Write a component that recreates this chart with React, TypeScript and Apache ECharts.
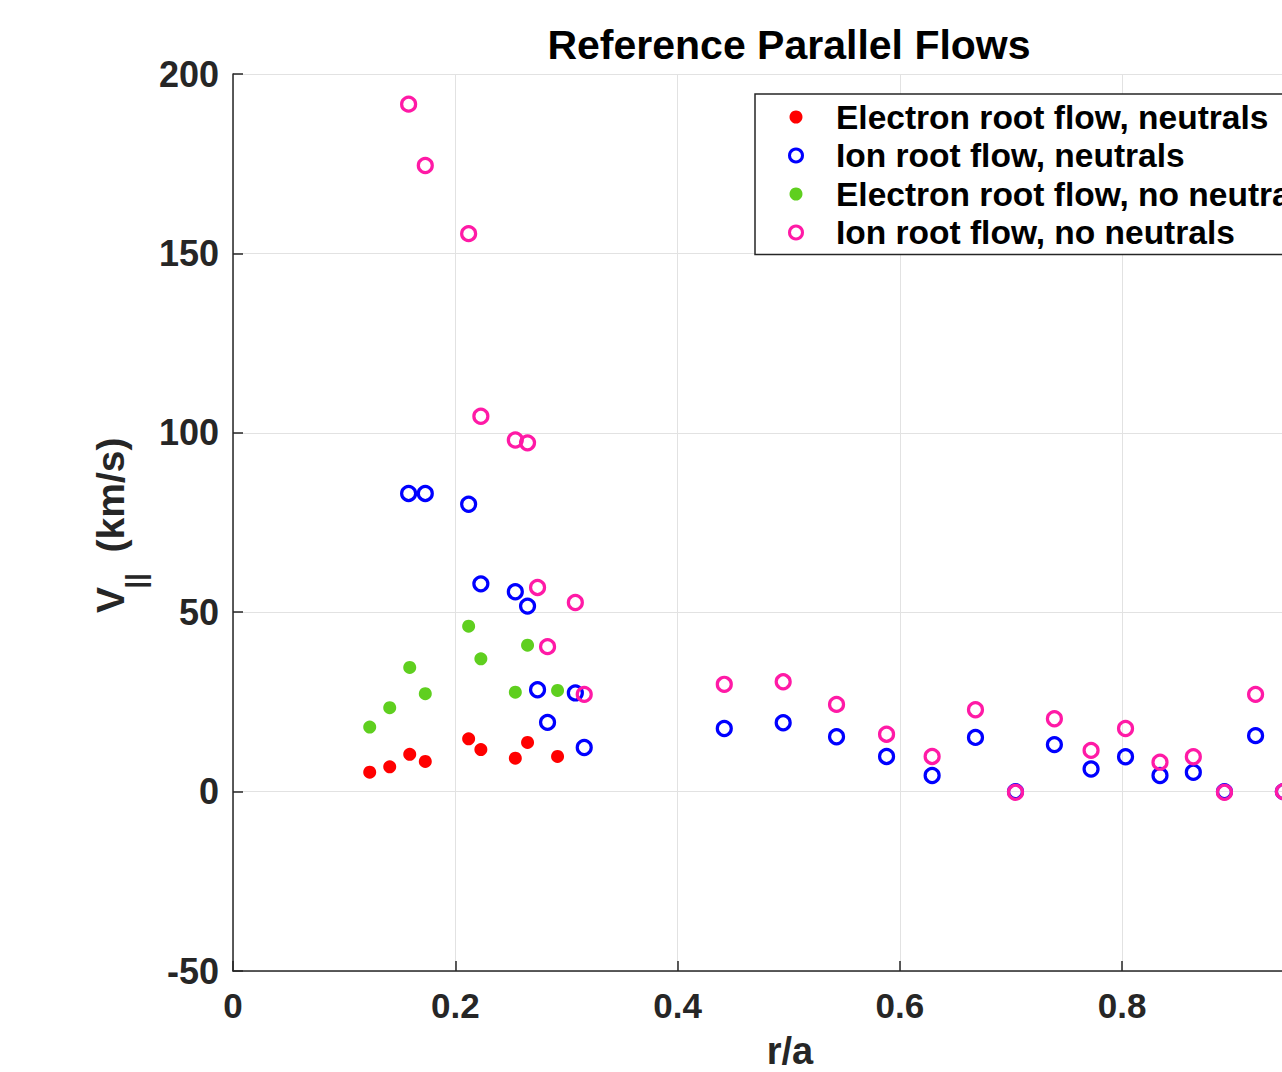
import React, { useEffect, useRef } from "react";
import * as echarts from "echarts";

// ---- data ----
const seriesNames = [
  "Electron root flow, neutrals",
  "Ion root flow, neutrals",
  "Electron root flow, no neutrals",
  "Ion root flow, no neutrals",
];

const electronX = [0.123, 0.141, 0.159, 0.173, 0.212, 0.223, 0.254, 0.265, 0.292];
const electronNeutrals = [5.4, 6.9, 10.4, 8.4, 14.7, 11.7, 9.3, 13.7, 9.8];
const electronNoNeutrals = [18.0, 23.4, 34.6, 27.3, 46.1, 37.0, 27.7, 40.8, 28.2];

const ionX = [
  0.158, 0.173, 0.212, 0.223, 0.254, 0.265, 0.274, 0.283, 0.308, 0.316,
  0.442, 0.495, 0.543, 0.588, 0.629, 0.668, 0.704, 0.739, 0.772, 0.803,
  0.834, 0.864, 0.892, 0.92, 0.945,
];
const ionNeutrals = [
  83.1, 83.1, 80.1, 57.9, 55.7, 51.7, 28.4, 19.3, 27.5, 12.3,
  17.6, 19.2, 15.3, 9.8, 4.5, 15.1, 0, 13.1, 6.3, 9.7,
  4.5, 5.4, 0, 15.6, 0,
];
const ionNoNeutrals = [
  191.6, 174.5, 155.5, 104.6, 98.0, 97.2, 56.9, 40.4, 52.7, 27.1,
  29.9, 30.6, 24.3, 16.0, 9.8, 22.8, -0.2, 20.3, 11.5, 17.6,
  8.2, 9.7, -0.2, 27.1, 0,
];

const xRange = [0, 1];
const xStep = 0.2;
const yRange = [-50, 200];
const yStep = 50;

const colors = ["#ff0000", "#0000ff", "#5fcf1f", "#ff1aa6"];

const FONT = "'Liberation Sans', Arial, Helvetica, sans-serif";
const AXIS_COLOR = "#262626";

function pairs(xs: number[], ys: number[]) {
  return xs.map((x, i) => [x, ys[i]]);
}

export default function App() {
  const ref = useRef<HTMLDivElement>(null);

  useEffect(() => {
    if (!ref.current) return;
    const chart = echarts.init(ref.current, null, { renderer: "svg" });

    const axisCommon = {
      type: "value" as const,
      axisLine: { show: true, onZero: false, lineStyle: { color: AXIS_COLOR, width: 1.5 } },
      axisTick: { show: true, inside: true, length: 10, lineStyle: { color: AXIS_COLOR, width: 1.5 } },
      splitLine: { show: true, lineStyle: { color: "#e2e2e2", width: 1 } },
    };

    const ringStyle = (c: string) => ({
      color: "rgba(0,0,0,0)",
      borderColor: c,
      borderWidth: 3.2,
      opacity: 1,
    });
    const dotStyle = (c: string) => ({ color: c, opacity: 1 });

    const option = {
      animation: false,
      backgroundColor: "#ffffff",
      grid: { left: 233, top: 74, width: 1111.5, height: 897, containLabel: false },
      xAxis: {
        ...axisCommon,
        min: xRange[0],
        max: xRange[1],
        interval: xStep,
        axisLabel: {
          fontSize: 35,
          fontWeight: "bold",
          fontFamily: FONT,
          color: AXIS_COLOR,
          margin: 17,
          showMaxLabel: false,
          formatter: (v: number) => String(Math.round(v * 10) / 10),
        },
      },
      yAxis: {
        ...axisCommon,
        min: yRange[0],
        max: yRange[1],
        interval: yStep,
        axisLabel: {
          fontSize: 36,
          fontWeight: "bold",
          fontFamily: FONT,
          color: AXIS_COLOR,
          margin: 14,
        },
      },
      legend: {
        orient: "vertical",
        left: 755,
        top: 94,
        padding: [6, 30, 5, 33],
        itemGap: 4.5,
        itemWidth: 70,
        itemHeight: 13,
        selectedMode: false,
        borderColor: AXIS_COLOR,
        borderWidth: 1.5,
        backgroundColor: "#ffffff",
        textStyle: { fontSize: 33.5, fontWeight: "bold", fontFamily: FONT, color: "#000" },
        data: [
          { name: seriesNames[0] },
          { name: seriesNames[1], itemStyle: { borderWidth: 3 } },
          { name: seriesNames[2] },
          { name: seriesNames[3], itemStyle: { borderWidth: 3 } },
        ],
      },
      series: [
        {
          name: seriesNames[0],
          type: "scatter",
          symbol: "circle",
          symbolSize: 13,
          itemStyle: dotStyle(colors[0]),
          data: pairs(electronX, electronNeutrals),
        },
        {
          name: seriesNames[1],
          type: "scatter",
          symbol: "circle",
          symbolSize: 14,
          itemStyle: ringStyle(colors[1]),
          data: pairs(ionX, ionNeutrals),
        },
        {
          name: seriesNames[2],
          type: "scatter",
          symbol: "circle",
          symbolSize: 13,
          itemStyle: dotStyle(colors[2]),
          data: pairs(electronX, electronNoNeutrals),
        },
        {
          name: seriesNames[3],
          type: "scatter",
          symbol: "circle",
          symbolSize: 14,
          itemStyle: ringStyle(colors[3]),
          data: pairs(ionX, ionNoNeutrals),
        },
      ],
      graphic: [
        {
          type: "text",
          x: 789,
          y: 45,
          style: {
            text: "Reference Parallel Flows",
            fontSize: 41,
            fontWeight: "bold",
            fontFamily: FONT,
            fill: "#000",
            align: "center",
            verticalAlign: "middle",
          },
        },
        {
          type: "text",
          x: 790,
          y: 1051,
          style: {
            text: "r/a",
            fontSize: 38,
            fontWeight: "bold",
            fontFamily: FONT,
            fill: AXIS_COLOR,
            align: "center",
            verticalAlign: "middle",
          },
        },
        {
          type: "text",
          x: 110,
          y: 495,
          rotation: Math.PI / 2,
          style: {
            text: "(km/s)",
            fontSize: 39,
            fontWeight: "bold",
            fontFamily: FONT,
            fill: AXIS_COLOR,
            align: "center",
            verticalAlign: "middle",
          },
        },
        {
          type: "text",
          x: 110,
          y: 600,
          rotation: Math.PI / 2,
          style: {
            text: "V",
            fontSize: 39,
            fontWeight: "bold",
            fontFamily: FONT,
            fill: AXIS_COLOR,
            align: "center",
            verticalAlign: "middle",
          },
        },
        {
          type: "text",
          x: 135,
          y: 581,
          rotation: Math.PI / 2,
          style: {
            text: "||",
            fontSize: 28,
            fontWeight: "bold",
            fontFamily: FONT,
            fill: AXIS_COLOR,
            align: "center",
            verticalAlign: "middle",
          },
        },
      ],
    };

    chart.setOption(option as any);
    return () => chart.dispose();
  }, []);

  return (
    <div
      style={{
        position: "fixed",
        left: 0,
        top: 0,
        width: 1282,
        height: 1072,
        overflow: "hidden",
        background: "#fff",
      }}
    >
      <div ref={ref} style={{ width: 1420, height: 1072 }} />
    </div>
  );
}
